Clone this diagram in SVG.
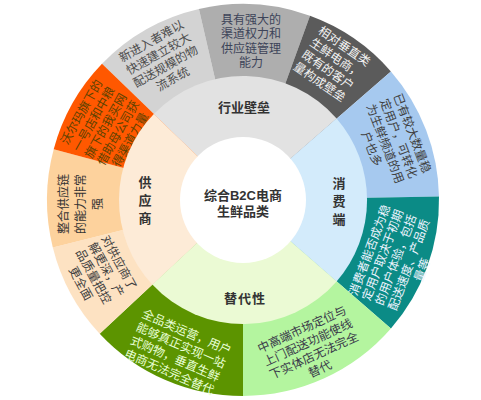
<svg xmlns="http://www.w3.org/2000/svg" width="481" height="400" viewBox="0 0 481 400">
<style>
.t{font-family:"Liberation Sans","Noto Sans CJK SC",sans-serif;font-size:12px;text-anchor:middle}
.lb{font-family:"Liberation Sans","Noto Sans CJK SC",sans-serif;font-size:13px;font-weight:bold;fill:#333;text-anchor:middle}
</style>
<rect width="481" height="400" fill="#fff"/>
<g id="outer-ring">
<g id="seg-logistics"><path d="M243 200 L102.0 63.8 A196 196 0 0 1 198.9 9.0 Z" fill="#d3d3d3"/>
<g transform="translate(162 60) rotate(-29.5)"><text class="t" fill="#4d4d4d"><tspan x="0" y="-17.5">新进入者难以</tspan><tspan x="0" y="-3">快速建立较大</tspan><tspan x="0" y="11.5">配送规模的物</tspan><tspan x="0" y="26">流系统</tspan></text></g></g>
<g id="seg-channel"><path d="M243 200 L198.9 9.0 A196 196 0 0 1 310.0 15.8 Z" fill="#aeaeae"/>
<g transform="translate(251 41)"><text class="t" fill="#3d4459"><tspan x="0" y="-17.5">具有强大的</tspan><tspan x="0" y="-3">渠道权力和</tspan><tspan x="0" y="11.5">供应链管理</tspan><tspan x="0" y="26">能力</tspan></text></g></g>
<g id="seg-customers"><path d="M243 200 L310.0 15.8 A196 196 0 0 1 390.9 71.4 Z" fill="#5b5b5b"/>
<g transform="translate(332 64) rotate(34.5)"><text class="t" fill="#f2f2f2"><tspan x="0" y="-17.5">相对垂直类</tspan><tspan x="0" y="-3">生鲜电商，</tspan><tspan x="0" y="11.5">既有的客户</tspan><tspan x="0" y="26">量构成壁垒</tspan></text></g></g>
<g id="seg-users"><path d="M243 200 L390.9 71.4 A196 196 0 0 1 439.0 196.6 Z" fill="#a6c9ef"/>
<g transform="translate(392 141) rotate(69)"><text class="t" fill="#404040"><tspan x="0" y="-17.5">已有较大数量稳</tspan><tspan x="0" y="-3">定用户，可转化</tspan><tspan x="0" y="11.5">为生鲜频道的用</tspan><tspan x="0" y="26">户也多</tspan></text></g></g>
<g id="seg-experience"><path d="M243 200 L439.0 196.6 A196 196 0 0 1 390.9 328.6 Z" fill="#0b8b86"/>
<g transform="translate(396 260) rotate(-69.5)"><text class="t" fill="#eef4ff"><tspan x="0" y="-24">消费者能否成为稳</tspan><tspan x="0" y="-10">定用户取决于初期</tspan><tspan x="0" y="4">的用户体验，包括</tspan><tspan x="0" y="18">配送速度、产品质</tspan><tspan x="0" y="32">量等</tspan></text></g></g>
<g id="seg-offline"><path d="M243 200 L390.9 328.6 A196 196 0 0 1 243 396 Z" fill="#b4f59f"/>
<g transform="translate(311 349) rotate(-24.5)"><text class="t" fill="#3a3a4a"><tspan x="0" y="-17.5">中高端市场定位与</tspan><tspan x="0" y="-3">上门配送功能使线</tspan><tspan x="0" y="11.5">下实体店无法完全</tspan><tspan x="0" y="26">替代</tspan></text></g></g>
<g id="seg-fullcategory"><path d="M243 200 L243 396 A196 196 0 0 1 99.7 333.7 Z" fill="#5c9400"/>
<g transform="translate(178 352) rotate(23.5)"><text class="t" fill="#e8ffd6"><tspan x="0" y="-17.5">全品类运营，用户</tspan><tspan x="0" y="-3">能够真正实现一站</tspan><tspan x="0" y="11.5">式购物，垂直生鲜</tspan><tspan x="0" y="26">电商无法完全替代</tspan></text></g></g>
<g id="seg-quality"><path d="M243 200 L99.7 333.7 A196 196 0 0 1 52.8 247.4 Z" fill="#fde2c2"/>
<g transform="translate(100 273) rotate(61.5)"><text class="t" fill="#404040"><tspan x="0" y="-17.5">对供应商了</tspan><tspan x="0" y="-3">解更深，产</tspan><tspan x="0" y="11.5">品质量把控</tspan><tspan x="0" y="26">更全面</tspan></text></g></g>
<g id="seg-supplychain"><path d="M243 200 L52.8 247.4 A196 196 0 0 1 53.7 149.3 Z" fill="#fdd29d"/>
<g transform="translate(81 204) rotate(-90)"><text class="t" fill="#333"><tspan x="0" y="-13">整合供应链</tspan><tspan x="0" y="4">的能力非常</tspan><tspan x="0" y="21">强</tspan></text></g></g>
<g id="seg-parent"><path d="M243 200 L53.7 149.3 A196 196 0 0 1 102.0 63.8 Z" fill="#ff5800"/>
<g transform="translate(106 126) rotate(-60.5)"><text class="t" fill="#5c4200"><tspan x="0" y="-24">沃尔玛旗下的</tspan><tspan x="0" y="-10">一号店和中粮</tspan><tspan x="0" y="4">旗下的我买网</tspan><tspan x="0" y="18">借助母公司获</tspan><tspan x="0" y="32">得渠道力量</tspan></text></g></g>
</g>
<g id="middle-ring">
<g id="cat-barrier"><path d="M243 200 L153.8 113.9 A124 124 0 0 1 336.6 118.6 Z" fill="#e2e2e2"/>
<text class="lb" x="244" y="112">行业壁垒</text></g>
<g id="cat-consumer"><path d="M243 200 L336.6 118.6 A124 124 0 0 1 336.6 281.4 Z" fill="#d3ebfb"/>
<text class="lb" x="339" y="188">消</text><text class="lb" x="339" y="206">费</text><text class="lb" x="339" y="224">端</text></g>
<g id="cat-substitute"><path d="M243 200 L336.6 281.4 A124 124 0 0 1 152.3 284.6 Z" fill="#ebfad4"/>
<text class="lb" x="245" y="303" letter-spacing="1">替代性</text></g>
<g id="cat-supplier"><path d="M243 200 L152.3 284.6 A124 124 0 0 1 153.8 113.9 Z" fill="#fdebd7"/>
<text class="lb" x="145" y="187">供</text><text class="lb" x="145" y="205">应</text><text class="lb" x="145" y="223">商</text></g>
</g>
<g id="center">
<circle cx="243" cy="200" r="63" fill="#fff"/>
<text class="lb" x="243" y="200">综合B2C电商</text>
<text class="lb" x="243" y="216">生鲜品类</text>
</g>
<g id="connectors"/>
</svg>
